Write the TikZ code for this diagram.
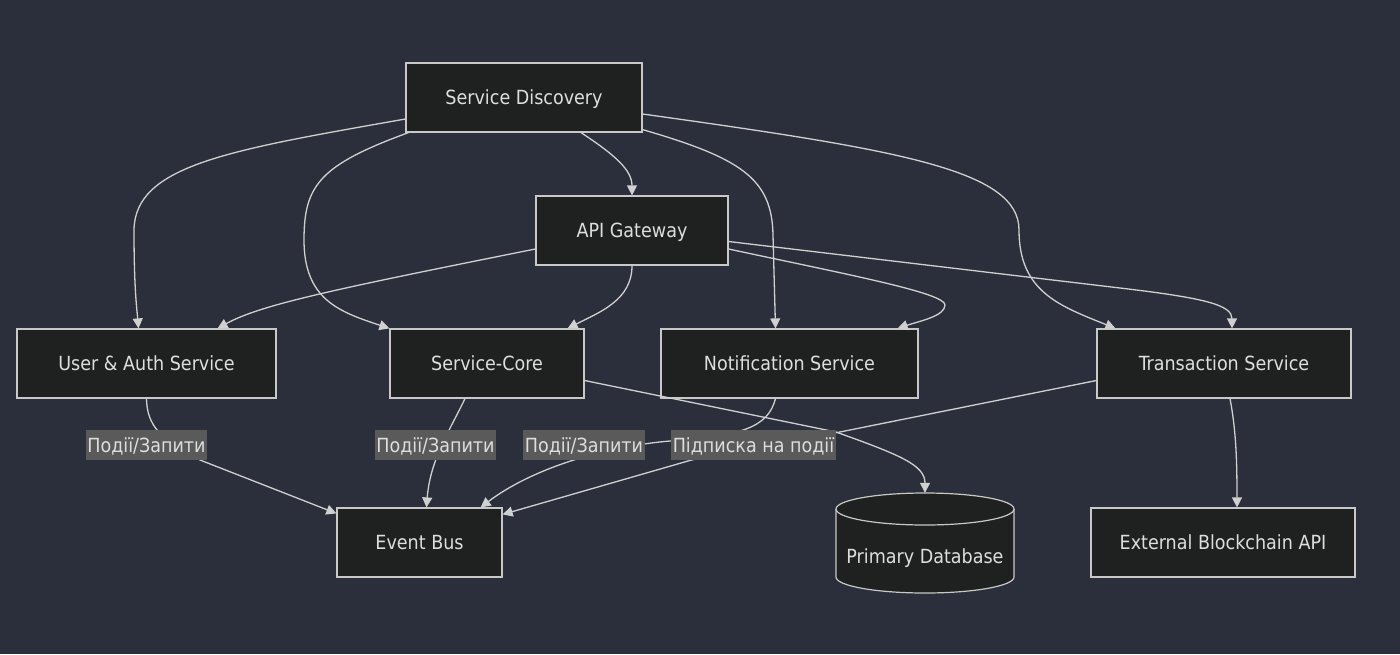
\documentclass[tikz,border=0pt]{standalone}
\usepackage{fontspec}
\setmainfont{DejaVu Sans Condensed}
\usetikzlibrary{calc,arrows.meta}
\definecolor{bgc}{HTML}{2A2F3B}
\definecolor{nodefill}{HTML}{1F2020}
\definecolor{nodeborder}{HTML}{C8C8C8}
\definecolor{edgec}{HTML}{D0D0D0}
\definecolor{labelbg}{HTML}{5A5A5A}
\definecolor{txt}{HTML}{DEDEDE}
\tikzset{
  lbl/.style={text=txt, font=\fontsize{19.5pt}{23pt}\selectfont, text height=14.2pt, text depth=0pt},
  box/.style={lbl, draw=nodeborder, fill=nodefill, line width=1.2pt, minimum height=69pt, inner sep=0pt},
  edge/.style={draw=edgec, line width=1.3pt, -{Triangle[length=10pt,width=10pt]}},
  elabel/.style={lbl, fill=labelbg, inner xsep=1.5pt, inner ysep=0pt, minimum height=30pt},
}
\begin{document}
\begin{tikzpicture}[x=1pt,y=-1pt]
\fill[bgc] (0,0) rectangle (1400,654);
\useasboundingbox (0,0) rectangle (1400,654);

% nodes
\node[box, minimum width=236pt] (sd) at (524,97.5) {Service Discovery};
\node[box, minimum width=192pt] (api) at (632,230.5) {API Gateway};
\node[box, minimum width=259pt] (ua) at (146.5,363.5) {User \& Auth Service};
\node[box, minimum width=194pt] (sc) at (487,363.5) {Service-Core};
\node[box, minimum width=257pt] (ns) at (789.5,363.5) {Notification Service};
\node[box, minimum width=254pt] (ts) at (1224,363.5) {Transaction Service};
\node[box, minimum width=165pt] (eb) at (419.5,542.5) {Event Bus};
\node[box, minimum width=264pt] (eba) at (1223,542.5) {External Blockchain API};

% database cylinder
\path[draw=nodeborder, fill=nodefill, line width=1.2pt]
  (836,509) -- (836,577) arc[start angle=180, end angle=360, x radius=89pt, y radius=16pt]
  -- (1014,509) arc[start angle=0, end angle=180, x radius=89pt, y radius=16pt] -- cycle;
\draw[nodeborder, line width=1.2pt] (836,509) arc[start angle=180, end angle=360, x radius=89pt, y radius=16pt];
\node[minimum width=178pt, minimum height=100pt, inner sep=0pt] (db) at (925,543) {};
\node[lbl] (dbtext) at (925,556) {Primary Database};

% edges
\draw[edge] ($(sd.west)+(0,21.5)$) .. controls (230,150) and (135,165) .. (134,230) .. controls (134,290) and (137,310) .. ($(ua.north)+(-8,0)$);
\draw[edge] ($(sd.south west)+(3,0)$) .. controls (320,165) and (304,185) .. (304,240) .. controls (304,300) and (340,312) .. (sc.north west);
\draw[edge] ($(sd.south)+(57,0)$) .. controls (615,155) and (632,170) .. (api.north);
\draw[edge] ($(sd.south east)+(0,-3)$) .. controls (740,158) and (772,178) .. (773,235) -- ($(ns.north)+(-14,0)$);
\draw[edge] ($(sd.east)+(0,16.5)$) .. controls (900,150) and (1019,170) .. (1019,230) .. controls (1019,292) and (1060,306) .. ($(ts.north west)+(19,0)$);
\draw[edge] ($(api.west)+(0,18.5)$) .. controls (330,290) and (260,305) .. ($(ua.north east)+(-59,0)$);
\draw[edge] (api.south) .. controls (632,300) and (600,312) .. ($(sc.north east)+(-17,0)$);
\draw[edge] ($(api.east)+(0,18.5)$) .. controls (850,275) and (945,293) .. (945,305) .. controls (945,316) and (920,321) .. ($(ns.north east)+(-21,0)$);
\draw[edge] ($(api.east)+(0,11)$) -- (1120,288) .. controls (1205,298) and (1232,305) .. ($(ts.north)+(8,0)$);
\draw[edge] (ua.south) .. controls (147,425) and (160,440) .. (200,460) -- ($(eb.north west)+(0,6)$);
\draw[edge] ($(sc.south)+(-22,0)$) .. controls (450,430) and (430,460) .. ($(eb.north)+(7,0)$);
\draw[edge] ($(sc.east)+(0,17)$) -- (836,432) .. controls (900,455) and (925,465) .. (db.north);
\draw[edge] ($(ns.south)+(-14,0)$) .. controls (768,428) and (740,436) .. (670,441) .. controls (600,447) and (530,470) .. ($(eb.north east)+(-22,0)$);
\draw[edge] ($(ts.west)+(0,17)$) -- (800,440) .. controls (760,448) and (720,452) .. (688,461) -- ($(eb.north east)+(0,7)$);
\draw[edge] ($(ts.south)+(6,0)$) .. controls (1236,430) and (1237,460) .. ($(eba.north)+(14,0)$);

% edge labels
\node[elabel] (lab1) at (146.5,445) {Події/Запити};
\node[elabel] (lab2) at (435.5,445) {Події/Запити};
\node[elabel] (lab3) at (584,445) {Події/Запити};
\node[elabel] (lab4) at (753.5,445) {Підписка на події};
\end{tikzpicture}
\end{document}
